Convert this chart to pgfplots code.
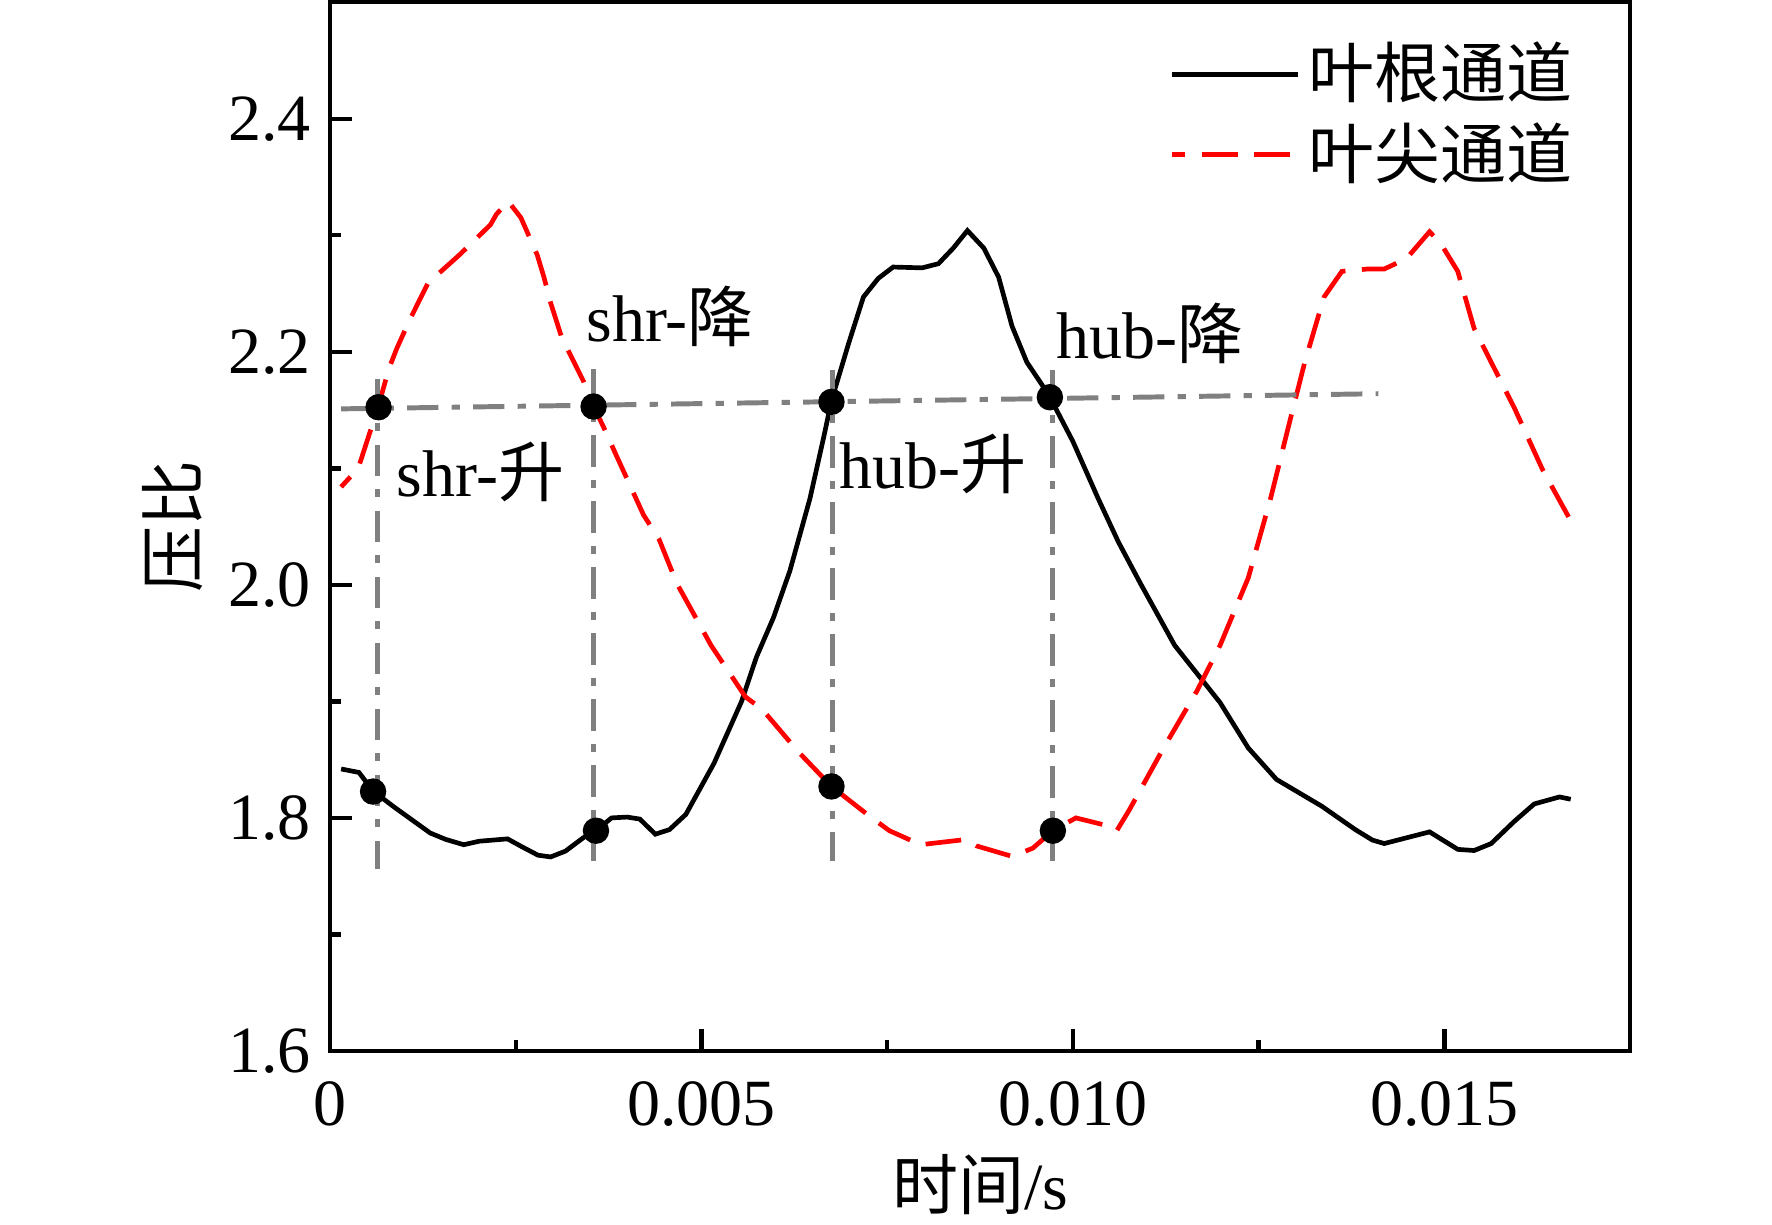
\documentclass[border=0pt]{standalone}
\usepackage{pgfplots}
\pgfplotsset{compat=1.18}
\usepackage{fontspec}
\setmainfont{Liberation Serif}
\newfontfamily\cjk{Noto Sans CJK SC}
\definecolor{guide}{RGB}{128,128,128}
\begin{document}
\begin{tikzpicture}[font=\fontsize{12}{14}\selectfont]
\begin{axis}[
  scale only axis, width=236.4pt, height=190.7pt,
  xmin=0, xmax=0.0175, ymin=1.6, ymax=2.5,
  axis line style={line width=0.8pt},
  tick style={line width=0.8pt, black},
  tick align=inside, tick pos=left,
  major tick length=4pt, minor tick length=2pt,
  xtick={0,0.005,0.01,0.015}, xticklabels={0,0.005,0.010,0.015},
  minor x tick num=1,
  ytick={1.6,1.8,2.0,2.2,2.4}, yticklabels={1.6,1.8,2.0,2.2,2.4},
  minor y tick num=1,
  scaled x ticks=false,
  xticklabel style={yshift=-2pt},
  xlabel={{\cjk 时间}/s},
  ylabel={\cjk 压比},
  xlabel style={at={(axis description cs:0.5,-0.098)}, anchor=north, inner sep=0pt},
  ylabel style={at={(axis description cs:-0.1214,0.5)}, anchor=center, inner sep=0pt},
  legend style={draw=none, fill=none, at={(rel axis cs:0.632,0.9786)}, anchor=north west,
    nodes={inner sep=1pt}, row sep=1pt, font=\fontsize{12}{14}\selectfont\cjk,
    /tikz/every odd column/.style={column sep=0.5pt}},
  legend cell align=left,
  legend image code/.code={\draw[#1] (0pt,0pt) -- (22.9pt,0pt);},
]
\addplot[black, line width=0.85pt] coordinates {
(0.00015,1.842) (0.00039,1.839) (0.00058,1.823) (0.00087,1.809) (0.00135,1.787) (0.00156,1.7815) (0.0018,1.777) (0.00201,1.780) (0.00239,1.782) (0.00259,1.775) (0.0028,1.768) (0.00297,1.7665) (0.00317,1.7715) (0.00341,1.783) (0.00358,1.789) (0.00379,1.800) (0.004,1.8007) (0.00417,1.799) (0.00438,1.786) (0.00457,1.790) (0.00479,1.803) (0.00517,1.847) (0.00554,1.90) (0.00574,1.938) (0.00597,1.972) (0.00619,2.012) (0.00646,2.074) (0.00665,2.128) (0.00675,2.158) (0.00698,2.207) (0.00718,2.247) (0.00738,2.263) (0.00758,2.2727) (0.00797,2.272) (0.00819,2.2756) (0.00839,2.289) (0.00858,2.304) (0.0088,2.289) (0.009,2.264) (0.00918,2.222) (0.00938,2.191) (0.00958,2.172) (0.00969,2.161) (0.0100,2.123) (0.01034,2.074) (0.01061,2.037) (0.01091,2.001) (0.01137,1.948) (0.01198,1.899) (0.01236,1.86) (0.01274,1.833) (0.01335,1.81) (0.0138,1.79) (0.01403,1.781) (0.01419,1.778) (0.0148,1.788) (0.01518,1.773) (0.0154,1.772) (0.01563,1.778) (0.01594,1.797) (0.01621,1.812) (0.01655,1.818) (0.0167,1.816)
};
\addlegendentry{叶根通道}
\addplot[red, line width=0.85pt, dash pattern=on 6.5pt off 3pt, dash phase=4pt] coordinates {
(0.00015,2.084) (0.00038,2.100) (0.00065,2.153) (0.00079,2.185) (0.00090,2.203) (0.00107,2.227) (0.00132,2.259) (0.00174,2.283) (0.00216,2.309) (0.00224,2.318) (0.00240,2.329) (0.00257,2.315) (0.00279,2.283) (0.00288,2.264) (0.00297,2.242) (0.00312,2.212) (0.00341,2.175) (0.00355,2.153) (0.0037,2.133) (0.00384,2.113) (0.00422,2.06) (0.00443,2.039) (0.00467,2.001) (0.00513,1.948) (0.00559,1.904) (0.00582,1.893) (0.0063,1.857) (0.00675,1.827) (0.00726,1.8016) (0.00753,1.789) (0.00795,1.777) (0.00856,1.7815) (0.0087,1.776) (0.00918,1.767) (0.00946,1.774) (0.00973,1.789) (0.01004,1.80) (0.01042,1.794) (0.01059,1.789) (0.01076,1.807) (0.01122,1.86) (0.01167,1.909) (0.01198,1.948) (0.01236,2.006) (0.01266,2.074) (0.01289,2.133) (0.01312,2.191) (0.01338,2.247) (0.01362,2.269) (0.01396,2.271) (0.01419,2.271) (0.01449,2.28) (0.0148,2.303) (0.01495,2.293) (0.01518,2.269) (0.0154,2.22) (0.01563,2.191) (0.01594,2.152) (0.01632,2.099) (0.0167,2.055)
};
\addlegendentry{叶尖通道}
\addplot[guide, line width=0.9pt, dash pattern=on 5.7pt off 2.4pt on 1.5pt off 2.4pt, forget plot] coordinates {(0.00015,2.151) (0.01411,2.164)};
\addplot[guide, line width=0.9pt, dash pattern=on 5.7pt off 2.4pt on 1.5pt off 2.4pt, forget plot] coordinates {(0.00064,2.177) (0.00064,1.756)};
\addplot[guide, line width=0.9pt, dash pattern=on 5.7pt off 2.4pt on 1.5pt off 2.4pt, forget plot] coordinates {(0.00355,2.185) (0.00355,1.763)};
\addplot[guide, line width=0.9pt, dash pattern=on 5.7pt off 2.4pt on 1.5pt off 2.4pt, forget plot] coordinates {(0.00676,2.184) (0.00676,1.763)};
\addplot[guide, line width=0.9pt, dash pattern=on 5.7pt off 2.4pt on 1.5pt off 2.4pt, forget plot] coordinates {(0.00973,2.184) (0.00973,1.763)};
\addplot[only marks, mark=*, mark size=2.2pt, black, forget plot] coordinates {
(0.000654,2.1524) (0.003548,2.153) (0.00675,2.157) (0.00969,2.161)
(0.00058,1.8226) (0.00358,1.789) (0.00675,1.827) (0.00973,1.789)};
\node[anchor=base west, inner sep=0pt] at (axis cs:0.000883,2.076) {shr-{\cjk 升}};
\node[anchor=base west, inner sep=0pt] at (axis cs:0.00344,2.2084) {shr-{\cjk 降}};
\node[anchor=base west, inner sep=0pt] at (axis cs:0.006845,2.0824) {hub-{\cjk 升}};
\node[anchor=base west, inner sep=0pt] at (axis cs:0.009761,2.194) {hub-{\cjk 降}};
\coordinate (SW) at (rel axis cs:0,0);
\coordinate (NE) at (rel axis cs:1,1);
\end{axis}
\pgfresetboundingbox
\path ([shift={(-60pt,-31.6pt)}]SW) rectangle ([shift={(25.8pt,0.4pt)}]NE);
\end{tikzpicture}
\end{document}
